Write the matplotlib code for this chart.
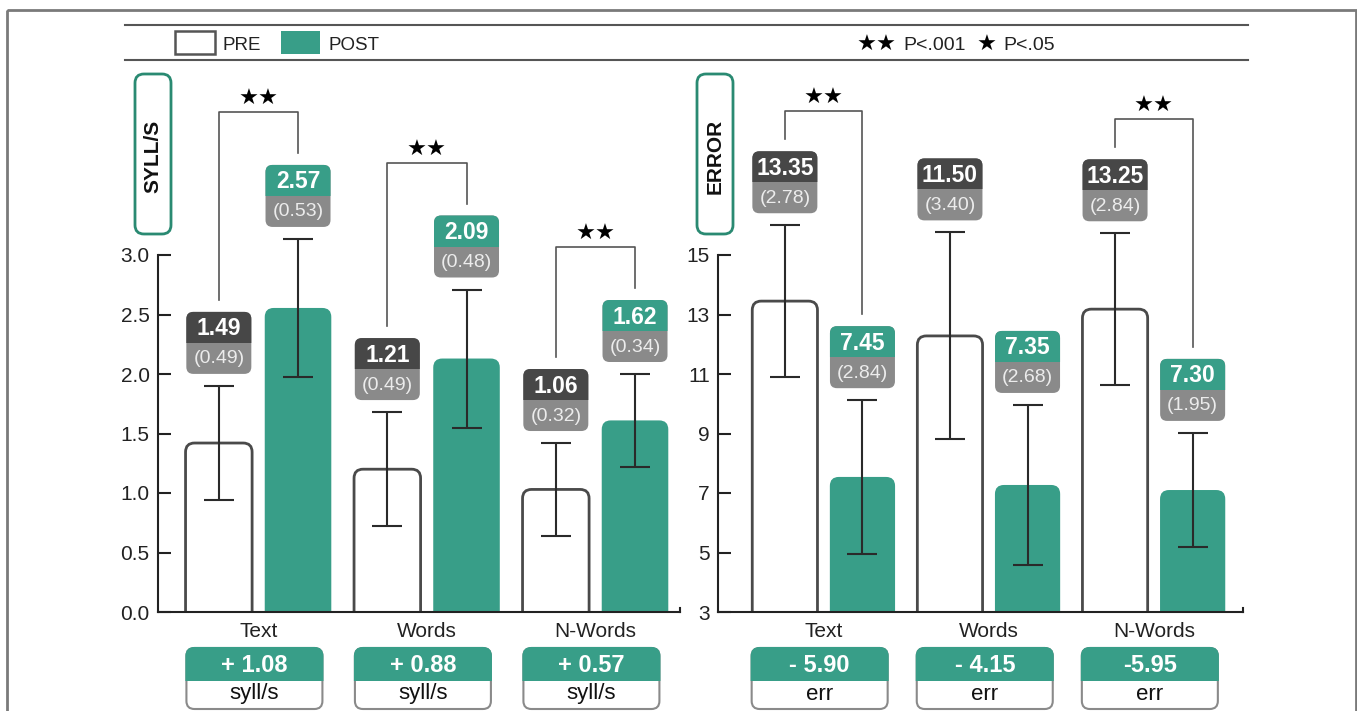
import matplotlib
matplotlib.use("Agg")
import matplotlib.pyplot as plt
from matplotlib.patches import FancyBboxPatch, Rectangle

# ---------------- data ----------------
categories = ["Text", "Words", "N-Words"]

syll_pre = [1.42, 1.20, 1.03]
syll_post = [2.555, 2.13, 1.61]
syll_pre_err = [0.48, 0.48, 0.39]
syll_post_err = [0.58, 0.58, 0.39]
syll_pre_mean_lbl = ["1.49", "1.21", "1.06"]
syll_pre_sd_lbl = ["(0.49)", "(0.49)", "(0.32)"]
syll_post_mean_lbl = ["2.57", "2.09", "1.62"]
syll_post_sd_lbl = ["(0.53)", "(0.48)", "(0.34)"]
syll_sig = ["★★", "★★", "★★"]
syll_diff = ["+ 1.08", "+ 0.88", "+ 0.57"]
syll_unit = "syll/s"
syll_ticks = [0.0, 0.5, 1.0, 1.5, 2.0, 2.5, 3.0]

err_pre = [13.45, 12.28, 13.18]
err_post = [7.54, 7.27, 7.10]
err_pre_err = [2.55, 3.48, 2.55]
err_post_err = [2.58, 2.69, 1.92]
err_pre_mean_lbl = ["13.35", "11.50", "13.25"]
err_pre_sd_lbl = ["(2.78)", "(3.40)", "(2.84)"]
err_post_mean_lbl = ["7.45", "7.35", "7.30"]
err_post_sd_lbl = ["(2.84)", "(2.68)", "(1.95)"]
err_sig = ["★★", "", "★★"]
err_diff = ["- 5.90", "- 4.15", "-5.95"]
err_unit = "err"
err_ticks = [3, 5, 7, 9, 11, 13, 15]

# ---------------- style ----------------
W, H = 1357, 711
TEAL = "#389e88"
TEAL_EDGE = "#2a8a72"
DARK = "#474747"
GREY = "#8a8a8a"
LINE = "#555555"
plt.rcParams["font.family"] = ["Liberation Sans", "DejaVu Sans"]

fig = plt.figure(figsize=(W / 100, H / 100), dpi=100)


def add_px_axes(x0, y0, x1, y1):
    return fig.add_axes([x0 / W, 1 - y1 / H, (x1 - x0) / W, (y1 - y0) / H])


ov = fig.add_axes([0, 0, 1, 1], zorder=5)
ov.set_xlim(0, W)
ov.set_ylim(H, 0)
ov.axis("off")
ov.patch.set_alpha(0)


def to_px(ax, x, y):
    d = ax.transData.transform((x, y))
    return d[0], H - d[1]


def split_box(cx, top, w, h, split, top_color, bot_color, edge, r, lw=0):
    x0 = cx - w / 2
    base = FancyBboxPatch((x0, top), w, h, boxstyle=f"round,pad=0,rounding_size={r}",
                          facecolor=bot_color, edgecolor=edge, lw=lw, zorder=6)
    ov.add_patch(base)
    upper = FancyBboxPatch((x0, top), w, h, boxstyle=f"round,pad=0,rounding_size={r}",
                           facecolor=top_color, edgecolor=top_color, lw=lw if lw else 0.0, zorder=7)
    ov.add_patch(upper)
    clip = Rectangle((x0 - 5, top - 5), w + 10, split + 5, transform=ov.transData)
    upper.set_clip_path(clip)


def panel(px_box, xlim, ylim, ticks, fmt, pre, post, pre_e, post_e,
          pre_m, pre_s, post_m, post_s, sig, diff, unit, bracket_off, ylabel, ylab_x):
    ax = add_px_axes(*px_box)
    ax.set_xlim(*xlim)
    ax.set_ylim(*ylim)
    off, bw = 0.235, 0.395
    xs = list(range(len(categories)))
    xpre = [x - off for x in xs]
    xpost = [x + off for x in xs]
    b1 = ax.bar(xpre, pre, width=bw, color="white", edgecolor="#4a4a4a", lw=2)
    b2 = ax.bar(xpost, post, width=bw, color=TEAL, edgecolor=TEAL, lw=0)
    # replace with rounded-top versions
    p0 = ax.transData.transform((0, 0))
    p1 = ax.transData.transform((1, 1))
    pxx, pxy = p1[0] - p0[0], p1[1] - p0[1]
    r = 9 / pxx
    aspect = (1 / pxy) / (1 / pxx)
    for bars in (b1, b2):
        for b in bars:
            b.set_visible(False)
            x, y0, w, h = b.get_x(), b.get_y(), b.get_width(), b.get_height()
            ext = 20 / pxy
            fb = FancyBboxPatch((x, y0 - ext), w, h + ext,
                                boxstyle=f"round,pad=0,rounding_size={r}",
                                mutation_aspect=aspect, facecolor=b.get_facecolor(),
                                edgecolor=b.get_edgecolor(), lw=b.get_linewidth(), zorder=2)
            ax.add_patch(fb)
    for xx, vv, ee in ((xpre, pre, pre_e), (xpost, post, post_e)):
        eb = ax.errorbar(xx, vv, yerr=ee, fmt="none", ecolor="#2a2a2a", elinewidth=1.5,
                         capsize=11, capthick=1.5, zorder=4)
        for art in eb.lines[1]:
            art.set_clip_on(False)
        for art in eb.lines[2]:
            art.set_clip_on(False)
    for s in ("top", "right"):
        ax.spines[s].set_visible(False)
    for s in ("left", "bottom"):
        ax.spines[s].set_color("#222222")
        ax.spines[s].set_linewidth(1.5)
    ax.set_yticks(ticks)
    ax.set_yticklabels([fmt.format(t) for t in ticks], fontsize=15, color="#222222")
    ax.tick_params(axis="y", direction="in", length=9, width=1.5, color="#222222", pad=6)
    ax.set_xticks(xs)
    ax.set_xticklabels(categories, fontsize=15, color="#222222")
    ax.tick_params(axis="x", length=0, pad=7)
    ax.plot([xlim[1], xlim[1]], [ylim[0], ylim[0] + 4 / pxy], color="#222222", lw=1.5,
            clip_on=False)
    ax.patch.set_alpha(0)

    # value boxes
    bw_px, bh_px = 65, 62
    tops_pre, tops_post, cx_pre, cx_post = [], [], [], []
    for xl, vals, errs, ms, ss, tc, store, cstore in (
            (xpre, pre, pre_e, pre_m, pre_s, DARK, tops_pre, cx_pre),
            (xpost, post, post_e, post_m, post_s, TEAL, tops_post, cx_post)):
        for x, v, e, m, s in zip(xl, vals, errs, ms, ss):
            cx, ytop = to_px(ax, x, v + e)
            bottom = ytop - 12
            top = bottom - bh_px
            split_box(cx, top, bw_px, bh_px, bh_px / 2, tc, GREY, GREY, 7)
            ov.text(cx, top + bh_px * 0.25 + 1.5, m, ha="center", va="center", color="white",
                    fontsize=16.5, fontweight="bold", zorder=8)
            ov.text(cx, top + bh_px * 0.75 + 0.5, s, ha="center", va="center", color="#ececec",
                    fontsize=14, zorder=8)
            store.append(top)
            cstore.append(cx)
    # significance brackets
    for i, sg in enumerate(sig):
        if not sg:
            continue
        yb = min(tops_pre[i], tops_post[i]) - bracket_off
        ov.plot([cx_pre[i], cx_pre[i], cx_post[i], cx_post[i]],
                [tops_pre[i] - 12, yb, yb, tops_post[i] - 12], color=LINE, lw=1.2, zorder=6)
        ov.text((cx_pre[i] + cx_post[i]) / 2, yb - 13, sg, ha="center", va="center",
                fontsize=16, color="black", family=["DejaVu Sans"], zorder=8)
    # difference boxes under categories
    for x, d in zip(xs, diff):
        cx, _ = to_px(ax, x, ylim[0])
        cx -= 4
        split_box(cx, 648, 136, 61, 33, TEAL, "white", GREY, 8, lw=1.5)
        ov.text(cx, 648 + 17, d, ha="center", va="center", color="white", fontsize=17,
                fontweight="bold", zorder=8)
        ov.text(cx, 648 + 46, unit, ha="center", va="center", color="#111111", fontsize=16,
                zorder=8)
    # y label box
    ov.add_patch(FancyBboxPatch((ylab_x, 74), 36, 160, boxstyle="round,pad=0,rounding_size=9",
                                facecolor="white", edgecolor=TEAL_EDGE, lw=2, zorder=6))
    ov.text(ylab_x + 18, 156, ylabel, rotation=90, ha="center", va="center",
            fontsize=15, fontweight="bold", color="#111111", zorder=8)
    return ax


panel((158, 255, 680, 612), (-0.596, 2.502), (0, 3), syll_ticks, "{:.1f}",
      syll_pre, syll_post, syll_pre_err, syll_post_err,
      syll_pre_mean_lbl, syll_pre_sd_lbl, syll_post_mean_lbl, syll_post_sd_lbl,
      syll_sig, syll_diff, syll_unit, 53, "SYLL/S", 135)
panel((718, 255, 1243, 612), (-0.64, 2.54), (3, 15), err_ticks, "{:d}",
      err_pre, err_post, err_pre_err, err_post_err,
      err_pre_mean_lbl, err_pre_sd_lbl, err_post_mean_lbl, err_post_sd_lbl,
      err_sig, err_diff, err_unit, 40, "ERROR", 697)

# frame
ov.add_patch(Rectangle((7, 10), 1349, 720, facecolor="none", edgecolor="#7a7a7a", lw=2,
                       clip_on=False, zorder=1))
# legend band
ov.plot([125, 1248], [25, 25], color=LINE, lw=1.5, zorder=6)
ov.plot([125, 1248], [60, 60], color=LINE, lw=1.5, zorder=6)
ov.add_patch(Rectangle((175, 31), 40, 23, facecolor="white", edgecolor=LINE, lw=1.8, zorder=6))
ov.text(222, 45, "PRE", ha="left", va="center", fontsize=13.5, color="#222222", zorder=8)
ov.add_patch(Rectangle((281, 31), 39, 23, facecolor=TEAL, edgecolor=TEAL, lw=0, zorder=6))
ov.text(328, 45, "POST", ha="left", va="center", fontsize=13.5, color="#222222", zorder=8)
ov.text(857, 44.5, "★★", ha="left", va="center", fontsize=16, family=["DejaVu Sans"],
        color="black", zorder=8)
ov.text(903, 45, "P<.001", ha="left", va="center", fontsize=14, color="#222222", zorder=8)
ov.text(977, 44.5, "★", ha="left", va="center", fontsize=16, family=["DejaVu Sans"],
        color="black", zorder=8)
ov.text(1003, 45, "P<.05", ha="left", va="center", fontsize=14, color="#222222", zorder=8)

fig.savefig("out.png", dpi=100)
